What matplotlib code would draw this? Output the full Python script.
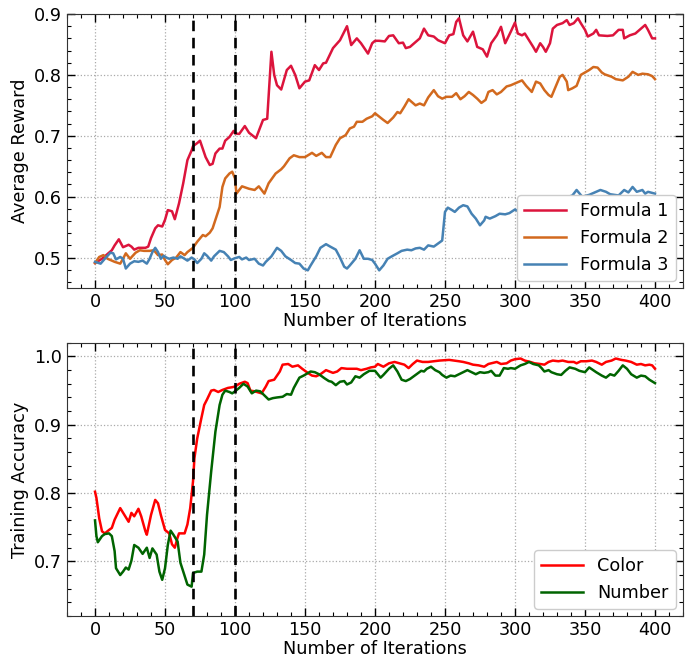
import numpy as np
import matplotlib
matplotlib.use("Agg")
import matplotlib.pyplot as plt
from matplotlib.ticker import MultipleLocator

# ---- top panel: average reward ----
f1_x = [0, 5, 9, 12, 14, 17, 20, 24, 26, 28, 31, 33, 36, 38, 40, 43, 45, 48, 50, 52, 55, 57, 60, 63, 66,
        69, 70, 73, 75, 79, 82, 84, 86, 89, 91, 93, 96, 99, 100, 103, 107, 110, 115, 120, 123, 126, 128,
        130, 133, 137, 140, 143, 146, 150, 153, 157, 160, 163, 165, 170, 175, 180, 183, 187, 190, 195,
        198, 200, 203, 207, 210, 213, 217, 220, 222, 225, 228, 232, 235, 238, 242, 245, 250, 253, 256,
        258, 260, 263, 266, 270, 273, 277, 280, 283, 287, 290, 293, 297, 300, 302, 305, 307, 310, 313,
        315, 318, 320, 322, 325, 327, 330, 334, 337, 339, 342, 345, 347, 350, 352, 356, 358, 360, 366,
        370, 374, 377, 378, 382, 386, 389, 393, 395, 398, 400]
f1_y = [0.491, 0.498, 0.506, 0.512, 0.520, 0.530, 0.517, 0.521, 0.518, 0.513, 0.516, 0.516, 0.516, 0.518,
        0.532, 0.548, 0.553, 0.551, 0.562, 0.578, 0.576, 0.563, 0.589, 0.622, 0.660, 0.676, 0.683, 0.688,
        0.692, 0.665, 0.652, 0.654, 0.671, 0.679, 0.679, 0.692, 0.698, 0.708, 0.704, 0.703, 0.716, 0.705,
        0.696, 0.726, 0.728, 0.838, 0.800, 0.783, 0.776, 0.808, 0.815, 0.800, 0.778, 0.789, 0.791, 0.816,
        0.808, 0.819, 0.820, 0.844, 0.857, 0.880, 0.849, 0.860, 0.852, 0.835, 0.852, 0.856, 0.856, 0.855,
        0.864, 0.865, 0.852, 0.853, 0.844, 0.846, 0.852, 0.860, 0.876, 0.865, 0.863, 0.857, 0.852, 0.865,
        0.867, 0.887, 0.893, 0.865, 0.855, 0.871, 0.846, 0.842, 0.830, 0.852, 0.865, 0.879, 0.852, 0.871,
        0.886, 0.868, 0.865, 0.868, 0.857, 0.846, 0.838, 0.852, 0.846, 0.838, 0.852, 0.876, 0.882, 0.885,
        0.890, 0.882, 0.885, 0.893, 0.885, 0.874, 0.863, 0.868, 0.874, 0.865, 0.864, 0.865, 0.874, 0.874,
        0.860, 0.865, 0.868, 0.874, 0.882, 0.874, 0.860, 0.860]

f2_x = [0, 3, 6, 9, 14, 18, 20, 22, 25, 29, 32, 35, 39, 42, 45, 48, 50, 52, 55, 58, 61, 64, 66, 70, 73,
        77, 79, 82, 84, 86, 89, 91, 93, 96, 98, 100, 101, 105, 110, 114, 117, 121, 124, 129, 133, 135,
        139, 142, 146, 150, 155, 158, 162, 165, 168, 172, 175, 179, 182, 185, 187, 191, 194, 198, 200,
        206, 209, 213, 216, 218, 221, 224, 229, 232, 235, 238, 242, 245, 248, 251, 255, 258, 261, 264,
        267, 270, 273, 276, 279, 281, 284, 287, 290, 294, 297, 300, 305, 308, 312, 315, 318, 321, 324,
        326, 328, 332, 334, 337, 338, 341, 344, 347, 350, 353, 356, 359, 362, 364, 369, 372, 377, 381,
        384, 388, 391, 395, 398, 400]
f2_y = [0.491, 0.501, 0.504, 0.498, 0.493, 0.490, 0.498, 0.507, 0.498, 0.508, 0.512, 0.511, 0.511, 0.512,
        0.504, 0.505, 0.496, 0.489, 0.496, 0.500, 0.509, 0.504, 0.509, 0.516, 0.526, 0.537, 0.535, 0.541,
        0.548, 0.562, 0.583, 0.616, 0.630, 0.638, 0.641, 0.630, 0.605, 0.617, 0.613, 0.611, 0.617, 0.605,
        0.622, 0.638, 0.645, 0.650, 0.663, 0.668, 0.665, 0.665, 0.672, 0.667, 0.672, 0.665, 0.665, 0.685,
        0.696, 0.701, 0.712, 0.715, 0.723, 0.723, 0.728, 0.732, 0.737, 0.726, 0.721, 0.730, 0.739, 0.737,
        0.748, 0.760, 0.750, 0.753, 0.750, 0.763, 0.775, 0.765, 0.761, 0.764, 0.764, 0.770, 0.760, 0.765,
        0.772, 0.767, 0.761, 0.754, 0.759, 0.772, 0.775, 0.768, 0.772, 0.781, 0.783, 0.786, 0.791, 0.782,
        0.772, 0.789, 0.786, 0.775, 0.767, 0.764, 0.775, 0.797, 0.800, 0.789, 0.775, 0.778, 0.782, 0.800,
        0.804, 0.808, 0.813, 0.812, 0.804, 0.801, 0.797, 0.793, 0.791, 0.797, 0.805, 0.800, 0.802, 0.801,
        0.798, 0.793]

f3_x = [0, 4, 7, 11, 13, 15, 18, 20, 22, 25, 28, 31, 34, 37, 39, 41, 43, 45, 47, 49, 51, 53, 56, 59, 61,
        64, 66, 69, 71, 73, 76, 78, 80, 83, 85, 89, 92, 95, 97, 100, 103, 105, 108, 110, 114, 117, 120,
        122, 126, 130, 133, 136, 140, 143, 146, 149, 152, 154, 158, 161, 165, 168, 172, 175, 178, 180,
        182, 186, 189, 192, 195, 198, 200, 203, 206, 209, 212, 216, 219, 223, 226, 229, 232, 235, 238,
        242, 245, 248, 250, 252, 255, 257, 260, 263, 266, 269, 272, 275, 278, 279, 282, 286, 289, 293,
        296, 300, 303, 308, 315, 322, 330, 336, 341, 344, 348, 353, 358, 361, 365, 368, 374, 378, 381,
        384, 387, 391, 393, 395, 400]
f3_y = [0.493, 0.490, 0.498, 0.508, 0.507, 0.497, 0.501, 0.498, 0.482, 0.490, 0.494, 0.493, 0.495, 0.490,
        0.498, 0.509, 0.516, 0.509, 0.498, 0.503, 0.500, 0.498, 0.500, 0.498, 0.502, 0.498, 0.495, 0.500,
        0.497, 0.491, 0.498, 0.507, 0.503, 0.495, 0.502, 0.511, 0.509, 0.502, 0.496, 0.499, 0.501, 0.497,
        0.500, 0.496, 0.498, 0.490, 0.487, 0.493, 0.502, 0.516, 0.511, 0.502, 0.496, 0.491, 0.490, 0.482,
        0.479, 0.487, 0.502, 0.516, 0.522, 0.518, 0.513, 0.500, 0.485, 0.482, 0.487, 0.498, 0.512, 0.498,
        0.498, 0.496, 0.490, 0.479, 0.487, 0.498, 0.502, 0.507, 0.511, 0.513, 0.512, 0.515, 0.516, 0.513,
        0.520, 0.518, 0.523, 0.528, 0.575, 0.582, 0.578, 0.575, 0.582, 0.586, 0.584, 0.572, 0.564, 0.553,
        0.561, 0.567, 0.564, 0.568, 0.572, 0.571, 0.573, 0.579, 0.575, 0.585, 0.590, 0.588, 0.592, 0.598,
        0.602, 0.611, 0.600, 0.603, 0.608, 0.611, 0.608, 0.604, 0.602, 0.611, 0.607, 0.616, 0.608, 0.611,
        0.605, 0.608, 0.605]

# ---- bottom panel: training accuracy ----
col_x = [0, 1, 3, 5, 7, 10, 12, 14, 18, 21, 24, 26, 28, 31, 33, 36, 37, 40, 43, 45, 47, 50, 53, 55, 57,
         59, 60, 64, 66, 68, 70, 71, 73, 76, 78, 80, 83, 85, 88, 91, 95, 98, 100, 103, 107, 109, 111, 114,
         119, 122, 124, 128, 132, 134, 138, 141, 145, 148, 152, 155, 158, 161, 165, 170, 173, 176, 180,
         184, 187, 190, 194, 197, 200, 202, 206, 210, 214, 221, 224, 227, 230, 234, 238, 246, 253, 260,
         263, 267, 270, 274, 278, 281, 287, 290, 294, 297, 300, 304, 307, 311, 314, 318, 321, 324, 327,
         331, 334, 338, 342, 344, 347, 351, 355, 358, 362, 365, 369, 372, 376, 379, 383, 387, 390, 393,
         396, 398, 400]
col_y = [0.802, 0.793, 0.763, 0.744, 0.741, 0.746, 0.749, 0.761, 0.778, 0.768, 0.758, 0.771, 0.766, 0.777,
         0.766, 0.744, 0.739, 0.768, 0.790, 0.785, 0.768, 0.746, 0.741, 0.725, 0.720, 0.735, 0.741, 0.741,
         0.754, 0.778, 0.817, 0.851, 0.880, 0.910, 0.929, 0.937, 0.950, 0.951, 0.948, 0.951, 0.954, 0.955,
         0.956, 0.960, 0.963, 0.961, 0.950, 0.949, 0.946, 0.956, 0.964, 0.966, 0.978, 0.988, 0.989, 0.985,
         0.987, 0.982, 0.976, 0.972, 0.971, 0.974, 0.980, 0.976, 0.978, 0.983, 0.982, 0.982, 0.982, 0.980,
         0.982, 0.984, 0.985, 0.989, 0.985, 0.990, 0.992, 0.988, 0.983, 0.989, 0.994, 0.992, 0.992, 0.994,
         0.995, 0.993, 0.992, 0.990, 0.988, 0.987, 0.985, 0.989, 0.992, 0.989, 0.990, 0.994, 0.996, 0.997,
         0.994, 0.992, 0.990, 0.989, 0.988, 0.992, 0.994, 0.993, 0.994, 0.992, 0.992, 0.990, 0.993, 0.993,
         0.994, 0.992, 0.988, 0.992, 0.994, 0.997, 0.995, 0.994, 0.992, 0.988, 0.989, 0.987, 0.988, 0.987,
         0.982]

num_x = [0, 1, 2, 5, 7, 10, 12, 14, 15, 18, 20, 22, 24, 26, 28, 31, 34, 37, 39, 41, 44, 46, 48, 50, 52,
         54, 56, 59, 61, 63, 66, 69, 70, 73, 76, 78, 80, 83, 86, 89, 91, 93, 96, 98, 100, 103, 106, 109,
         112, 115, 118, 121, 124, 127, 130, 134, 137, 140, 142, 146, 149, 154, 157, 160, 164, 167, 169,
         172, 175, 178, 180, 183, 186, 189, 192, 196, 200, 204, 206, 210, 213, 216, 219, 222, 225, 229,
         233, 235, 237, 240, 243, 246, 248, 251, 254, 257, 260, 263, 266, 269, 272, 275, 278, 281, 283,
         286, 289, 292, 295, 297, 300, 304, 307, 310, 313, 317, 319, 321, 324, 326, 330, 333, 336, 339,
         343, 346, 350, 353, 358, 362, 365, 368, 371, 374, 377, 380, 383, 387, 390, 393, 396, 400]
num_y = [0.760, 0.737, 0.728, 0.737, 0.740, 0.741, 0.737, 0.715, 0.690, 0.680, 0.685, 0.691, 0.688, 0.701,
         0.724, 0.720, 0.711, 0.720, 0.705, 0.719, 0.710, 0.685, 0.673, 0.690, 0.724, 0.745, 0.739, 0.729,
         0.698, 0.685, 0.666, 0.663, 0.683, 0.685, 0.685, 0.710, 0.768, 0.832, 0.890, 0.929, 0.944, 0.950,
         0.948, 0.946, 0.949, 0.954, 0.960, 0.956, 0.946, 0.950, 0.949, 0.943, 0.937, 0.939, 0.940, 0.941,
         0.945, 0.944, 0.954, 0.969, 0.972, 0.978, 0.977, 0.974, 0.968, 0.964, 0.963, 0.958, 0.963, 0.964,
         0.959, 0.962, 0.971, 0.969, 0.974, 0.979, 0.979, 0.969, 0.973, 0.982, 0.987, 0.978, 0.966, 0.964,
         0.967, 0.973, 0.979, 0.978, 0.982, 0.985, 0.980, 0.977, 0.973, 0.969, 0.972, 0.971, 0.974, 0.977,
         0.980, 0.977, 0.974, 0.977, 0.976, 0.977, 0.979, 0.972, 0.972, 0.983, 0.982, 0.983, 0.982, 0.987,
         0.989, 0.992, 0.989, 0.987, 0.983, 0.978, 0.980, 0.977, 0.974, 0.973, 0.979, 0.984, 0.982, 0.979,
         0.977, 0.984, 0.977, 0.972, 0.969, 0.974, 0.972, 0.979, 0.987, 0.982, 0.974, 0.969, 0.972, 0.971,
         0.966, 0.961]

markers_x = [70, 100]

plt.rcParams['font.family'] = 'DejaVu Sans'
fs = 12.7

fig = plt.figure(figsize=(6.86, 6.58), dpi=100)
ax1 = fig.add_axes([0.0977, 0.5623, 0.8979, 0.4164])
ax2 = fig.add_axes([0.0977, 0.0638, 0.8979, 0.4152])

ax1.plot(f1_x, f1_y, color='#DC143C', lw=1.8, label='Formula 1')
ax1.plot(f2_x, f2_y, color='#D2691E', lw=1.8, label='Formula 2')
ax1.plot(f3_x, f3_y, color='#4682B4', lw=1.8, label='Formula 3')
ax1.set_ylim(0.45, 0.9)
ax1.set_ylabel('Average Reward', fontsize=fs)
ax1.yaxis.set_major_locator(MultipleLocator(0.1))
ax1.yaxis.set_minor_locator(MultipleLocator(0.02))

ax2.plot(col_x, col_y, color='red', lw=1.8, label='Color')
ax2.plot(num_x, num_y, color='#006400', lw=1.8, label='Number')
ax2.set_ylim(0.62, 1.02)
ax2.set_ylabel('Training Accuracy', fontsize=fs)
ax2.yaxis.set_major_locator(MultipleLocator(0.1))
ax2.yaxis.set_minor_locator(MultipleLocator(0.02))

for ax in (ax1, ax2):
    for xv in markers_x:
        ax.axvline(xv, color='black', lw=1.9, ls=(0, (4, 2.5)))
    ax.set_xlim(-20, 420)
    ax.xaxis.set_major_locator(MultipleLocator(50))
    ax.xaxis.set_minor_locator(MultipleLocator(10))
    ax.set_xlabel('Number of Iterations', fontsize=fs, labelpad=1)
    ax.grid(True, which='major', ls=':', color='#aaaaaa', lw=0.9)
    ax.tick_params(which='both', direction='in', top=True, right=True, labelsize=fs)
    ax.tick_params(which='major', length=6, width=1)
    ax.tick_params(which='minor', length=3, width=0.8)
    for sp in ax.spines.values():
        sp.set_color('#333333')
    leg = ax.legend(loc='lower right', fontsize=fs, framealpha=1, edgecolor='#cccccc',
                    handlelength=2.4, borderaxespad=0.4)

fig.savefig('out.png', dpi=100)
